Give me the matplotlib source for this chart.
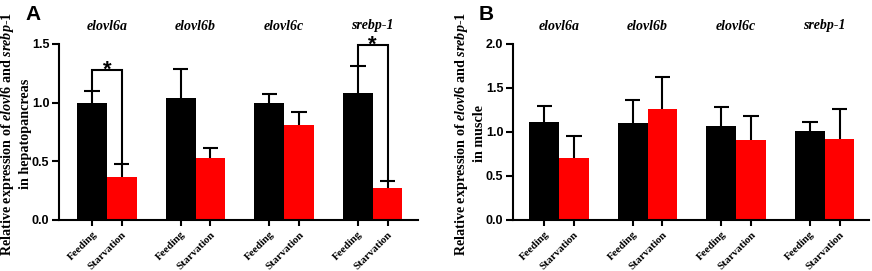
import matplotlib
matplotlib.use("Agg")
import matplotlib.pyplot as plt
import numpy as np

genes = ["elovl6a", "elovl6b", "elovl6c", "srebp-1"]
groups = ["Feeding", "Starvation"]

# Panel A: hepatopancreas
a_feed = [1.00, 1.04, 1.00, 1.08]
a_feed_err = [0.10, 0.25, 0.07, 0.23]
a_starv = [0.37, 0.53, 0.81, 0.27]
a_starv_err = [0.11, 0.08, 0.11, 0.06]
a_sig_genes = [0, 3]
a_sig_height = [1.28, 1.49]

# Panel B: muscle
b_feed = [1.11, 1.10, 1.07, 1.01]
b_feed_err = [0.19, 0.26, 0.21, 0.10]
b_starv = [0.71, 1.26, 0.91, 0.92]
b_starv_err = [0.25, 0.37, 0.27, 0.34]

plt.rcParams['mathtext.fontset'] = 'custom'
plt.rcParams['mathtext.rm'] = 'Liberation Serif:bold'
plt.rcParams['mathtext.it'] = 'Liberation Serif:italic:bold'
plt.rcParams['mathtext.bf'] = 'Liberation Serif:bold'

fig = plt.figure(figsize=(8.72, 2.71), dpi=100)
W, H = 872, 271

def make_ax(l, r, b, t):
    return fig.add_axes([l / W, 1 - b / H, (r - l) / W, (b - t) / H])

axA = make_ax(59, 418, 220, 44)
axB = make_ax(513, 869, 220, 44)

width = 0.335

def errbars(ax, xpos, vals, errs):
    vals = np.asarray(vals)
    tops = vals + np.asarray(errs)
    ax.vlines(xpos, vals, tops, color="black", lw=1.5, zorder=3)
    ax.hlines(tops, xpos - width * 0.26, xpos + width * 0.26, color="black", lw=1.5, zorder=3)

def draw(ax, feed, feed_err, starv, starv_err, ymax, yticks, xlim, tissue, label_px, ax_left,
         sig_genes=(), sig_h=()):
    x = np.arange(len(genes))
    xf = x - width / 2
    xs = x + width / 2
    ax.bar(xf, feed, width, color="black", zorder=2)
    ax.bar(xs, starv, width, color="#ff0000", zorder=2)
    errbars(ax, xf, feed, feed_err)
    errbars(ax, xs, starv, starv_err)
    for g, h in zip(sig_genes, sig_h):
        y1 = feed[g] + feed_err[g]
        y2 = starv[g] + starv_err[g]
        ax.plot([xf[g], xf[g], xs[g], xs[g]], [y1, h, h, y2], color="black", lw=1.5,
                clip_on=False, zorder=4, solid_joinstyle="miter")
        ax.annotate("*", (x[g], h), xytext=(0, -4.0), textcoords="offset points",
                    ha="center", va="baseline", fontsize=16, fontweight="bold",
                    family="Liberation Sans", annotation_clip=False)
    ax.set_xlim(*xlim)
    ax.set_ylim(0, ymax)
    ax.set_yticks(yticks)
    ax.set_yticklabels([f"{v:.1f}" for v in yticks], fontsize=9, fontweight="bold",
                       family="Liberation Sans")
    ticks = np.concatenate([xf, xs])
    labels = [groups[0]] * len(genes) + [groups[1]] * len(genes)
    ax.set_xticks(ticks)
    ax.set_xticklabels(labels, rotation=45, ha="right", rotation_mode="anchor",
                       fontsize=7.8, fontweight="bold", family="Liberation Serif")
    for sp in ["top", "right"]:
        ax.spines[sp].set_visible(False)
    for sp in ["left", "bottom"]:
        ax.spines[sp].set_linewidth(1.5)
    ax.tick_params(axis="y", length=5, width=1.5, pad=2)
    ax.tick_params(axis="x", length=4, width=1.5, pad=3)
    for i, gname in enumerate(genes):
        ax.text(x[i], 1 - (26 - 44) / 176, gname, transform=ax.get_xaxis_transform(),
                ha="center", va="center", fontsize=10, style="italic", fontweight="bold",
                family="Liberation Serif")
    lines = ["Relative expression of $\\mathit{elovl6}$ and $\\mathit{srebp}$-$\\mathit{1}$",
             "in " + tissue]
    ax_w = ax.get_position().width * W
    for k, line in enumerate(lines):
        xr = label_px - (1 - k) * 16.5
        ax.text((xr - ax_left) / ax_w, 0.49, line, transform=ax.transAxes, rotation=90,
                rotation_mode="anchor", ha="center", va="bottom", fontsize=10.2,
                fontweight="bold", family="Liberation Serif")
    return ax

draw(axA, a_feed, a_feed_err, a_starv, a_starv_err, 1.5, [0.0, 0.5, 1.0, 1.5],
     (-0.54, 3.51), "hepatopancreas", 32.5, 59, a_sig_genes, a_sig_height)
draw(axB, b_feed, b_feed_err, b_starv, b_starv_err, 2.0, [0.0, 0.5, 1.0, 1.5, 2.0],
     (-0.52, 3.5), "muscle", 486, 513)

fig.text(25 / W, 1 - 15 / H, "A", fontsize=15, fontweight="bold", family="Liberation Sans",
         va="center", ha="left")
fig.text(479 / W, 1 - 15 / H, "B", fontsize=15, fontweight="bold", family="Liberation Sans",
         va="center", ha="left")

fig.savefig("out.png", dpi=100)
